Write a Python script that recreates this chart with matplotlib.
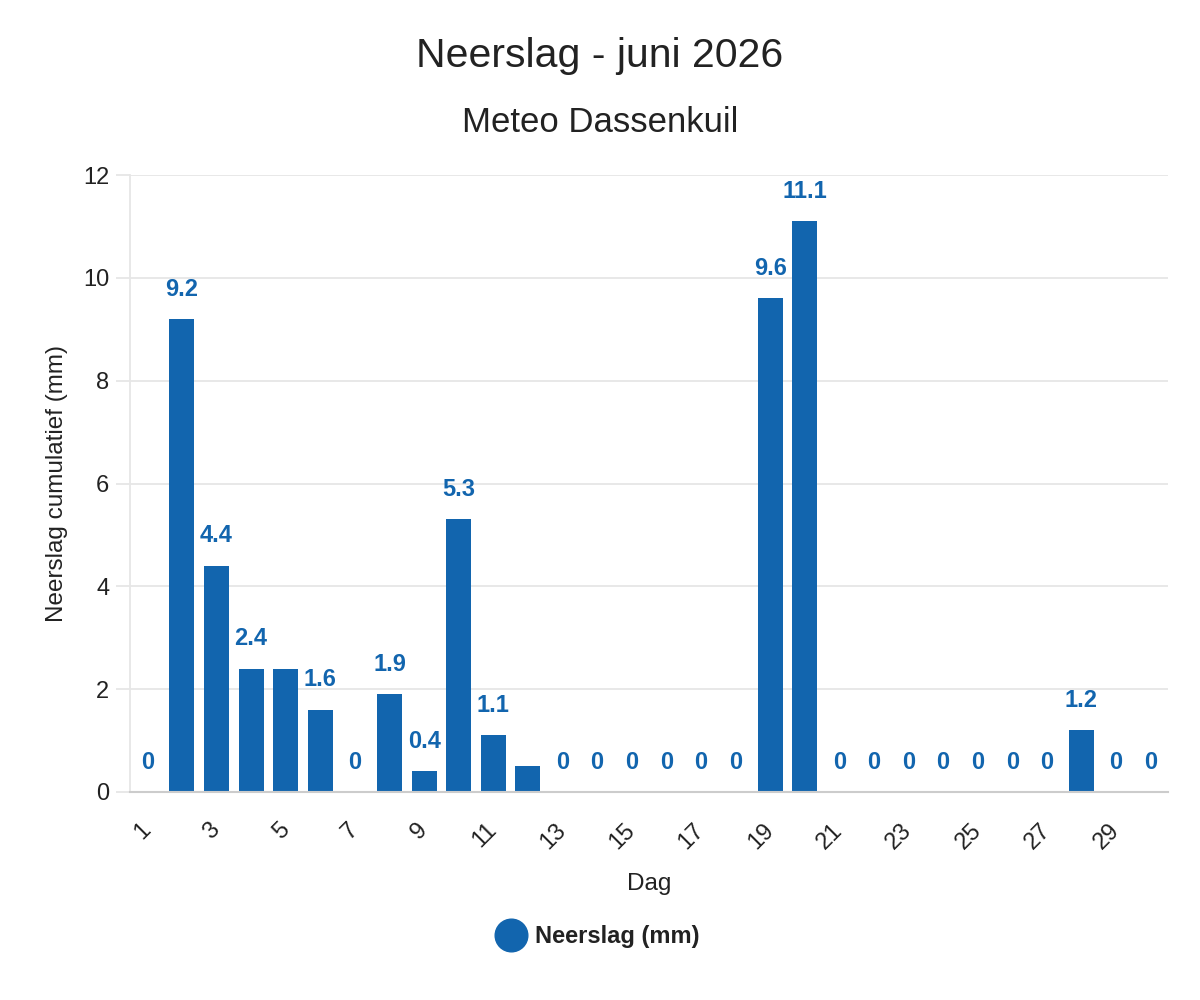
import matplotlib
matplotlib.use("Agg")
import matplotlib.pyplot as plt
from matplotlib.lines import Line2D

plt.rcParams['font.family'] = ['Liberation Sans', 'DejaVu Sans']

# data
days = list(range(1, 31))
rain = [0, 9.2, 4.4, 2.4, 2.4, 1.6, 0, 1.9, 0.4, 5.3,
        1.1, 0.5, 0, 0, 0, 0, 0, 0, 9.6, 11.1,
        0, 0, 0, 0, 0, 0, 0, 1.2, 0, 0]
hidden_labels = [5, 12]  # labels dropped by overlap in the original
tick_days = list(range(1, 31, 2))
y_ticks = [0, 2, 4, 6, 8, 10, 12]

blue = '#1265ae'
text_col = '#222222'

fig = plt.figure(figsize=(12, 10), dpi=100)
ax = fig.add_axes([130/1200, 1 - 792/1000, 1038/1200, 617/1000])

x = [d - 1 for d in days]
ax.bar(x, rain, width=0.72, color=blue, zorder=3)

for d, v in zip(days, rain):
    if d in hidden_labels:
        continue
    lbl = '%g' % v
    ax.annotate(lbl, (d - 1, v), xytext=(0, 21.5), textcoords='offset points',
                ha='center', va='center', fontsize=17, fontweight='bold',
                color=blue, zorder=4)

ax.set_xlim(-0.5, 29.5)
ax.set_ylim(0, 12)
ax.set_yticks(y_ticks)
ax.set_yticklabels([str(t) for t in y_ticks], fontsize=17, color=text_col)
ax.set_xticks([d - 1 for d in tick_days])
ax.set_xticklabels([str(d) for d in tick_days], fontsize=17, color=text_col,
                   rotation=45, ha='right', va='center', rotation_mode='anchor')

ax.grid(axis='y', color='#e6e6e6', linewidth=1.3, zorder=0)
ax.tick_params(axis='y', length=10, color='#e6e6e6', width=1.3, pad=5)
ax.tick_params(axis='x', length=0, pad=25)

for s in ['top', 'right']:
    ax.spines[s].set_visible(False)
ax.spines['left'].set_color('#e6e6e6')
ax.spines['left'].set_linewidth(1.3)
ax.spines['bottom'].set_color('#cccccc')
ax.spines['bottom'].set_linewidth(1.5)
ax.spines['bottom'].set_zorder(5)

ax.set_xlabel('Dag', fontsize=17.5, color=text_col, labelpad=14)
ax.set_ylabel('Neerslag cumulatief (mm)', fontsize=17.5, color=text_col, labelpad=11)

fig.text(0.5, 1 - 56/1000, 'Neerslag - juni 2026', ha='center', va='center',
         fontsize=29.5, color=text_col)
fig.text(0.5, 1 - 122/1000, 'Meteo Dassenkuil', ha='center', va='center',
         fontsize=25, color=text_col)

handle = Line2D([], [], marker='o', linestyle='none', markersize=23.5,
                markerfacecolor=blue, markeredgecolor=blue)
leg = fig.legend([handle], ['Neerslag (mm)'], loc='center',
                 bbox_to_anchor=(0.497, 1 - 937/1000), frameon=False,
                 prop={'size': 17, 'weight': 'bold'}, handletextpad=0.3,
                 handlelength=1.5)
for t in leg.get_texts():
    t.set_color(text_col)

fig.savefig('out.png', dpi=100, facecolor='white')
